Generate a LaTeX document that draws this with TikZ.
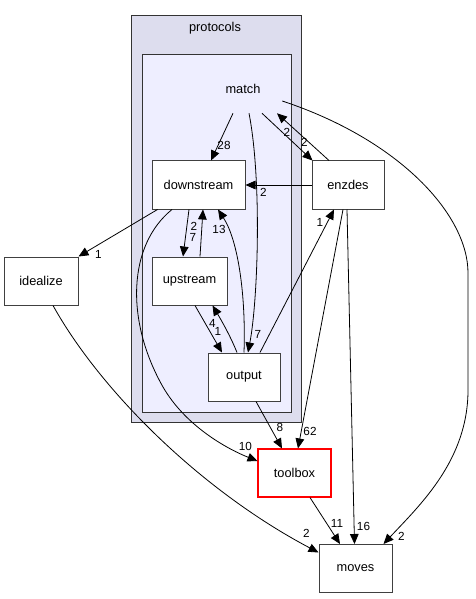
\documentclass[tikz,border=0pt]{standalone}
\usepackage{fontspec}
\setmainfont{Liberation Sans}
\usetikzlibrary{arrows.meta,calc}

\definecolor{outerfill}{HTML}{DDDDEE}
\definecolor{innerfill}{HTML}{EEEEFF}

\begin{document}
\begin{tikzpicture}[x=0.75pt, y=-0.75pt,
  dir/.style={draw=black!75, fill=white, line width=0.75pt, inner sep=0pt,
              minimum height=36pt, font=\fontsize{9.6}{11}\selectfont},
  cluster/.style={draw=black!80, line width=0.75pt},
  title/.style={font=\fontsize{9.6}{11}\selectfont, inner sep=0pt},
  lbl/.style={font=\fontsize{8.8}{10}\selectfont, inner sep=0pt},
  dep/.style={-{Triangle[length=7.5pt,width=6.5pt]}, line width=0.6pt},
]
\useasboundingbox (0,0) rectangle (475,599);

% --- clusters ---
\draw[cluster, fill=outerfill] (131,16) rectangle (301,422);
\draw[cluster, fill=innerfill] (142,55) rectangle (291,412);
\node[title] (protocols) at (215,28) {protocols};

% --- directories ---
\node[title, minimum width=60pt, minimum height=36pt] (match) at (243,89) {match};
\node[dir, minimum width=69.75pt] (downstream) at (198.5,185) {downstream};
\node[dir, minimum width=54pt] (enzdes) at (348,185) {enzdes};
\node[dir, minimum width=56.25pt] (upstream) at (189.5,281) {upstream};
\node[dir, minimum width=54pt] (output) at (244,377) {output};
\node[dir, minimum width=55.5pt] (idealize) at (41,281) {idealize};
\node[dir, minimum width=54.75pt] (moves) at (355.5,568.5) {moves};

% --- dependencies out of match ---
\draw[dep] ($(match.south)+(-10,0)$) -- ($(downstream.north)+(12.5,0)$)
  node[lbl, shift={(13,-15)}] {28};
\draw[dep] ($(match.south)+(6,0)$) .. controls (262,180) and (258,300) .. ($(output.north)+(4,0)$)
  node[lbl, shift={(10,-18)}] {7};
\draw[dep] ($(match.south)+(19,0)$) -- ($(enzdes.north west)+(1,0)$)
  node[lbl, shift={(-8,-18)}] {2};
\draw[dep] ($(enzdes.north)+(-19,0)$) -- ($(match.south)+(34,0)$)
  node[lbl, shift={(10,19)}] {2};
\draw[dep] ($(match.east)+(-1,12)$) .. controls (400,140) and (468,215) .. (468,273)
  -- (468,390) .. controls (468,460) and (420,505) .. ($(moves.north east)+(-9,0)$)
  node[lbl, shift={(18,-8)}] {2};

% --- inside match ---
\draw[dep] (enzdes.west) -- (downstream.east) node[lbl, shift={(18,7)}] {2};
\draw[dep] ($(downstream.south)+(-9.5,0)$) -- ($(upstream.north)+(-6.5,0)$)
  node[lbl, shift={(10,-19)}] {7};
\draw[dep] ($(upstream.north)+(10.5,0)$) -- ($(downstream.south)+(4.5,0)$)
  node[lbl, shift={(-9,17)}] {2};
\draw[dep] (output.north) .. controls (246,295) and (238,240) .. ($(downstream.south)+(19.5,0)$)
  node[lbl, shift={(1,20)}] {13};
\draw[dep] ($(upstream.south)+(5.5,0)$) -- ($(output.north)+(-22,0)$)
  node[lbl, shift={(-4,-21)}] {1};
\draw[dep] ($(output.north)+(-7,0)$) .. controls (230,335) and (220,318) .. ($(upstream.south)+(23,0)$)
  node[lbl, shift={(0,18)}] {4};
\draw[dep] ($(output.north)+(16,0)$) -- ($(enzdes.south)+(-14,0)$)
  node[lbl, shift={(-14,13)}] {1};

% --- out to the other directories ---
\node[dir, draw=red, line width=0.8pt, minimum width=54.75pt] (toolbox) at (294.5,473) {toolbox};
\draw[dep] ($(downstream.south west)+(6,0)$) -- (idealize.north east)
  node[lbl, shift={(20,-2)}] {1};
\draw[dep] ($(downstream.south)+(-26.5,0)$) .. controls (128,245) and (125,320) .. (163,387)
  .. controls (185,425) and (225,448) .. ($(toolbox.west)+(0,-12)$)
  node[lbl, shift={(-12,-15)}] {10};
\draw[dep] ($(output.south)+(12,0)$) -- ($(toolbox.north)+(-12.5,0)$)
  node[lbl, shift={(-2,-21)}] {8};
\draw[dep] ($(enzdes.south)+(-5,0)$) -- ($(toolbox.north)+(3.5,0)$)
  node[lbl, shift={(12,-17)}] {62};
\draw[dep] ($(enzdes.south)+(-1,0)$) -- ($(moves.north)+(-1,0)$)
  node[lbl, shift={(9,-18)}] {16};
\draw[dep] ($(toolbox.south)+(15.5,0)$) -- ($(moves.north)+(-15.5,0)$)
  node[lbl, shift={(-3,-21)}] {11};
\draw[dep] ($(idealize.south)+(12,0)$) .. controls (100,390) and (200,490) .. ($(moves.west)+(0,-16)$)
  node[lbl, shift={(-12,-19)}] {2};
\end{tikzpicture}
\end{document}
